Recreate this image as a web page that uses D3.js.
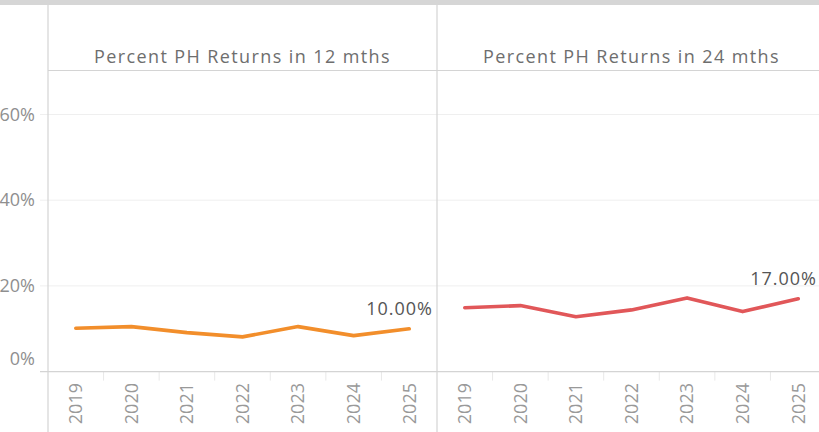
<!DOCTYPE html>
<html>
<head>
<meta charset="utf-8">
<script src="https://cdn.jsdelivr.net/npm/d3@7"></script>
<style>
  html, body { margin: 0; padding: 0; background: #fff; }
  svg { display: block; }
  text { font-family: "Open Sans", sans-serif; }
</style>
</head>
<body>
<svg id="chart" width="819" height="432"></svg>
<script>
// ---- data ----
const years = ["2019", "2020", "2021", "2022", "2023", "2024", "2025"];
const returns12 = [10.1, 10.5, 9.1, 8.1, 10.5, 8.4, 10.0];
const returns24 = [14.9, 15.4, 12.8, 14.4, 17.2, 14.0, 17.0];
const panelTitles = ["Percent PH Returns in 12 mths", "Percent PH Returns in 24 mths"];
const seriesColors = ["#f28e2b", "#e15759"];
const yTicks = [0, 20, 40, 60];

// ---- layout ----
const W = 819, H = 432;
const paneLeft = 48, paneW = 389;
const headerTop = 5, headerBottom = 70.5;
const baseY = 371.6;

const svg = d3.select("#chart");

const y = d3.scaleLinear().domain([0, 70]).range([baseY, baseY - 300]);

// top gray strip
svg.append("rect").attr("x", 0).attr("y", 0).attr("width", W).attr("height", headerTop).attr("fill", "#d6d6d6");

// gridlines
svg.append("g").selectAll("line").data(yTicks.filter(d => d > 0)).join("line")
  .attr("x1", 40).attr("x2", W)
  .attr("y1", d => y(d)).attr("y2", d => y(d))
  .attr("stroke", "#efefef").attr("stroke-width", 1);

// y axis labels
svg.append("g").selectAll("text").data(yTicks).join("text")
  .attr("x", 35)
  .attr("y", d => Math.min(y(d), baseY - 13))
  .attr("dy", "0.35em")
  .attr("text-anchor", "end")
  .attr("font-size", 18)
  .attr("fill", "#8f8f8f")
  .text(d => d + "%");

const series = [returns12, returns24];

series.forEach((vals, i) => {
  const x0 = paneLeft + i * paneW;
  const x = d3.scaleBand().domain(years).range([x0, x0 + paneW]).padding(0);
  const cx = d => x(d) + x.bandwidth() / 2;

  // panel title
  svg.append("text")
    .attr("x", x0 + paneW / 2)
    .attr("y", 63)
    .attr("text-anchor", "middle")
    .attr("font-size", 18)
    .attr("letter-spacing", "1.4px")
    .attr("fill", "#6e6e6e")
    .text(panelTitles[i]);

  // band separator ticks
  svg.append("g").selectAll("line").data(years.slice(1)).join("line")
    .attr("x1", d => x(d)).attr("x2", d => x(d))
    .attr("y1", baseY).attr("y2", baseY + 9)
    .attr("stroke", "#e8e8e8").attr("stroke-width", 1);

  // year labels
  svg.append("g").selectAll("text").data(years).join("text")
    .attr("transform", d => `translate(${cx(d)},383) rotate(-90)`)
    .attr("dy", "0.35em")
    .attr("text-anchor", "end")
    .attr("font-size", 18)
    .attr("fill", "#999")
    .text(d => d);

  // line
  const pts = years.map((yr, k) => ({ yr, v: vals[k] }));
  const line = d3.line().x(d => cx(d.yr)).y(d => y(d.v));
  svg.append("path").datum(pts)
    .attr("d", line)
    .attr("fill", "none")
    .attr("stroke", seriesColors[i])
    .attr("stroke-width", 3.6)
    .attr("stroke-linejoin", "round")
    .attr("stroke-linecap", "round");

  // last value label (kept inside the pane and the visible page)
  const last = pts[pts.length - 1];
  const lbl = svg.append("text")
    .attr("y", y(last.v) - 14)
    .attr("font-size", 18)
    .attr("letter-spacing", "1px")
    .attr("fill", "#555")
    .attr("text-anchor", "start")
    .text(d3.format(".2f")(last.v) + "%");
  const w = lbl.node().getBBox().width;
  const rightLimit = Math.min(x0 + paneW - 4, W - 2);
  let lx = cx(last.yr) - w / 2;
  if (lx + w > rightLimit) lx = rightLimit - w;
  lbl.attr("x", lx);
});

// baseline
svg.append("line").attr("x1", 40).attr("x2", W).attr("y1", baseY).attr("y2", baseY)
  .attr("stroke", "#d4d4d4").attr("stroke-width", 1.2);

// header bottom line
svg.append("line").attr("x1", paneLeft).attr("x2", W).attr("y1", headerBottom).attr("y2", headerBottom)
  .attr("stroke", "#d4d4d4").attr("stroke-width", 1.2);

// vertical pane separators
[paneLeft, paneLeft + paneW].forEach(xx => {
  svg.append("line").attr("x1", xx).attr("x2", xx).attr("y1", headerTop).attr("y2", H)
    .attr("stroke", "#d4d4d4").attr("stroke-width", 1.2);
});
</script>
</body>
</html>
